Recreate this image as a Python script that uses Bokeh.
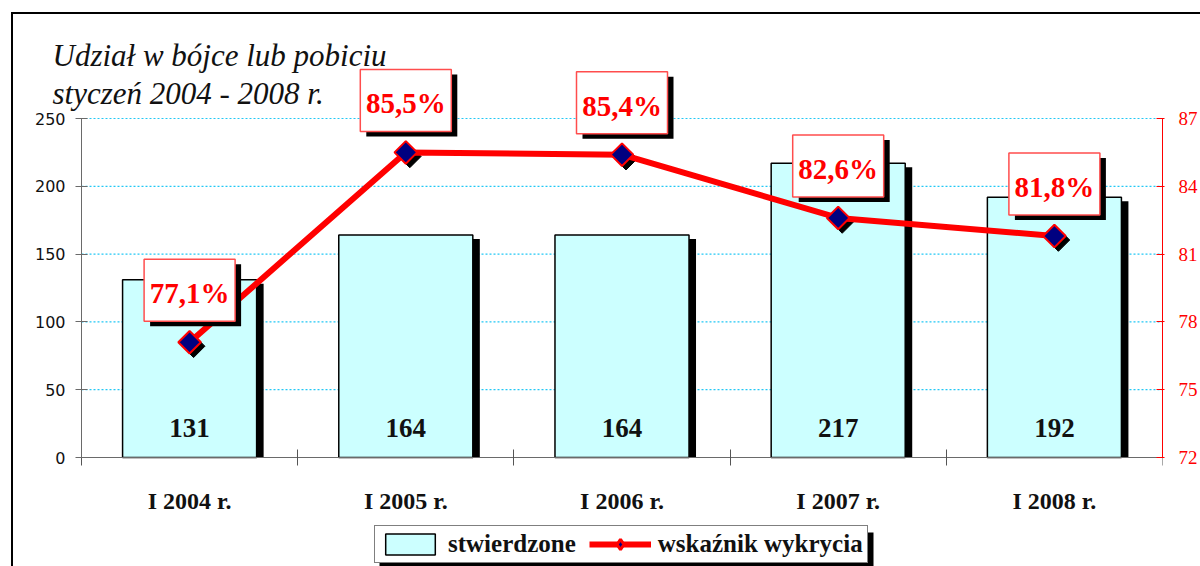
import math
from bokeh.plotting import figure
from bokeh.models import (Range1d, LinearAxis, FixedTicker, Legend, LegendItem,
                          BoxAnnotation)
from bokeh.core.properties import value
from bokeh.embed import file_html
from bokeh.resources import INLINE

# ---------------- data ----------------
categories = ["I 2004 r.", "I 2005 r.", "I 2006 r.", "I 2007 r.", "I 2008 r."]
stwierdzone = [131, 164, 164, 217, 192]
wskaznik = [77.1, 85.5, 85.4, 82.6, 81.8]
left_ticks = [0, 50, 100, 150, 200, 250]
right_ticks = [72, 75, 78, 81, 84, 87]
title_lines = ["Udział w bójce lub pobiciu", "styczeń 2004 - 2008 r."]
legend_labels = ["stwierdzone", "wskaźnik wykrycia"]

# ---------------- layout (pixels) ----------------
W, H = 1200, 566
ML, MR, MT, MB = 30, 38, 20, 0      # frame: x 30..1162, y 20..566
AXL = 81                             # screen x of the value axis
FRAME_R = W - MR
BASE = 457                           # screen y of the zero line
AX_PX = 339                          # pixel height of the 0..250 axis
n = len(categories)
xs = list(range(1, n + 1))
xpx = (FRAME_R - AXL) / n
ypx = AX_PX / (left_ticks[-1] - left_ticks[0])
ppx = AX_PX / (right_ticks[-1] - right_ticks[0])

def sx2x(sx):
    return 0.5 + (sx - AXL) / xpx

def sy2y(sy):
    return (BASE - sy) / ypx

SERIF = "Liberation Serif"

p = figure(width=W, height=H,
           x_range=Range1d(sx2x(ML), n + 0.5),
           y_range=Range1d(sy2y(H - MB), sy2y(MT)),
           x_axis_location="above",
           output_backend="svg", toolbar_location=None,
           min_border_left=ML, min_border_right=MR, min_border_top=MT,
           min_border_bottom=MB)
p.outline_line_color = None
p.background_fill_color = None
p.border_fill_color = None
p.extra_y_ranges = {"pct": Range1d(right_ticks[0] - (H - MB - BASE) / ppx,
                                   right_ticks[0] + (BASE - MT) / ppx)}
# chart's outer frame (page decoration)
p.styles = {
    "background": "linear-gradient(#000,#000) 11px 12px / 2px 600px no-repeat, "
                  "linear-gradient(#000,#000) 11px 12px / 1300px 2px no-repeat, "
                  "#ffffff"
}

# ---------------- grid (dotted) ----------------
p.segment(x0=[0.5] * (len(left_ticks) - 1), x1=[n + 0.5] * (len(left_ticks) - 1),
          y0=left_ticks[1:], y1=left_ticks[1:], line_color="#22C8F5",
          line_dash="2 2", line_width=1.2)

# ---------------- bars ----------------
p.vbar(x=[x + 7 / xpx for x in xs], top=[v - 4 / ypx for v in stwierdzone],
       bottom=0, width=0.62, fill_color="black", line_color=None)
bars = p.vbar(x=xs, top=stwierdzone, bottom=0, width=0.62, fill_color="#CCFFFF",
              line_color="black", line_width=1.5)
p.text(x=xs, y=[0] * n, text=[str(v) for v in stwierdzone],
       text_align="center", text_baseline="middle", y_offset=-30,
       text_font=value(SERIF), text_font_style="bold", text_font_size="27px",
       text_color="#111111")

# category labels under the axis
p.text(x=xs, y=[0] * n, text=categories, text_align="center",
       text_baseline="middle", y_offset=43, text_font=value(SERIF),
       text_font_style="bold", text_font_size="24px", text_color="#111111")

# ---------------- line ----------------
p.scatter(x=[x + 4 / xpx for x in xs], y=[v - 4 / ppx for v in wskaznik],
          marker="square", angle=math.pi / 4, size=16, fill_color="black",
          line_color="black", y_range_name="pct")
line = p.line(xs, wskaznik, line_color="#FF0000", line_width=6, y_range_name="pct")
p.scatter(xs, wskaznik, marker="square", angle=math.pi / 4, size=16,
          fill_color="#000080", line_color="#FF0000", line_width=2,
          y_range_name="pct")
# legend-only marker (no visible point)
dummy = p.scatter(x=[float("nan")], y=[float("nan")], marker="diamond",
                  fill_color="#000080", line_color="#FF0000", line_width=3,
                  y_range_name="pct")

# value label boxes
box_y = [v + 52 / ppx for v in wskaznik]
p.rect(x=[x + 6 / xpx for x in xs], y=[b - 5 / ppx for b in box_y],
       width=91, height=62, width_units="screen", height_units="screen",
       fill_color="black", line_color=None, y_range_name="pct")
p.rect(x=xs, y=box_y, width=91, height=62, width_units="screen",
       height_units="screen", fill_color="white", line_color="#FF4D4D",
       line_width=1.5, y_range_name="pct")
p.text(x=xs, y=box_y, text=[f"{v:.1f}".replace(".", ",") + "%" for v in wskaznik],
       text_align="center", text_baseline="middle", y_offset=3,
       text_font=value(SERIF), text_font_style="bold", text_font_size="29px",
       text_color="#FF0000", y_range_name="pct")

# ---------------- title ----------------
for i, t in enumerate(title_lines):
    p.text(x=[sx2x(52)], y=[sy2y(55 + 38 * i)], text=[t],
           text_font=value(SERIF), text_font_style="italic", text_font_size="31px",
           text_baseline="alphabetic", text_align="left", text_color="#111111")

# ---------------- axes ----------------
p.yaxis.fixed_location = 0.5
p.yaxis.ticker = FixedTicker(ticks=left_ticks)
p.yaxis.bounds = (left_ticks[0], left_ticks[-1])
p.yaxis.major_label_overrides = {t: "" for t in left_ticks}
p.yaxis.major_tick_in = 6
p.yaxis.major_tick_out = 6
p.yaxis.minor_tick_line_color = None
p.yaxis.axis_line_color = "#6a6a6a"
p.yaxis.major_tick_line_color = "#6a6a6a"
p.yaxis.major_label_standoff = 10
# tick labels of the value axis
p.text(x=[sx2x(65)] * len(left_ticks), y=left_ticks, text=[str(t) for t in left_ticks],
       text_align="right", text_baseline="middle", text_font=value("DejaVu Sans"),
       text_font_size="16px", text_color="#111111")

ra = LinearAxis(y_range_name="pct", ticker=FixedTicker(ticks=right_ticks),
                bounds=(right_ticks[0], right_ticks[-1]))
ra.axis_line_color = "#FF0000"
ra.major_tick_line_color = "#FF0000"
ra.major_tick_in = 6
ra.major_tick_out = 2
ra.minor_tick_line_color = None
ra.major_label_text_color = "#FF0000"
ra.major_label_text_font = SERIF
ra.major_label_text_font_size = "19px"
ra.major_label_standoff = 14
p.add_layout(ra, "right")

p.xaxis.fixed_location = 0
p.xaxis.ticker = FixedTicker(ticks=[], minor_ticks=[x - 0.5 for x in xs] + [xs[-1] + 0.5])
p.xaxis.bounds = (0.5, n + 0.5)
p.xaxis.major_tick_in = 0
p.xaxis.major_tick_out = 0
p.xaxis.minor_tick_in = 8
p.xaxis.minor_tick_out = 8
p.xaxis.minor_tick_line_color = "#555555"
p.xaxis.axis_line_color = "#6a6a6a"
p.xaxis.major_label_text_font_size = "1px"
p.xaxis.major_label_standoff = 0

p.xgrid.visible = False
p.ygrid.visible = False

# ---------------- legend ----------------
p.add_layout(BoxAnnotation(left=sx2x(379), right=sx2x(873), top=sy2y(532),
                           bottom=sy2y(570), fill_color="black", fill_alpha=1,
                           line_color=None))
legend = Legend(items=[LegendItem(label=legend_labels[0], renderers=[bars]),
                       LegendItem(label=legend_labels[1], renderers=[line, dummy])],
                orientation="horizontal", location=(374 - ML, H - MB - 563),
                glyph_width=62, glyph_height=26, label_standoff=7, spacing=13,
                padding=4, margin=0, border_line_color="black",
                border_line_width=1, background_fill_color="white",
                background_fill_alpha=1, label_text_font=SERIF,
                label_text_font_style="bold", label_text_font_size="25px",
                label_text_color="#111111")
p.add_layout(legend)

open("out.html", "w").write(file_html(p, INLINE))
